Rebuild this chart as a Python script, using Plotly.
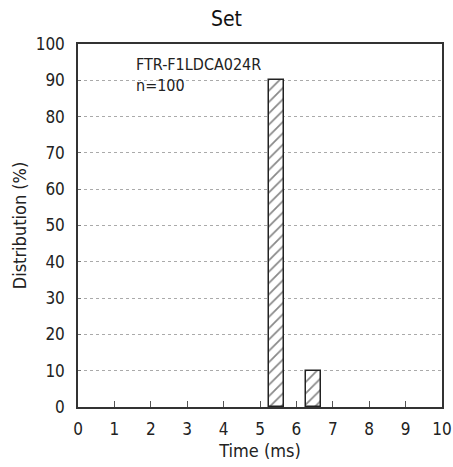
import plotly.graph_objects as go

time_ms = [5.45, 6.47]
distribution = [90, 10]
bar_width = 0.42
x_ticks = list(range(0, 11))
y_ticks = list(range(0, 101, 10))
title = "Set"
label_lines = ["FTR-F1LDCA024R", "n=100"]

FONT = "DejaVu Sans Condensed, Liberation Sans Narrow, Noto Sans"
TXT = "#222222"

fig = go.Figure()
fig.add_trace(go.Bar(
    x=time_ms, y=distribution, width=bar_width,
    marker=dict(color="white", line=dict(color="#222222", width=1.5),
                pattern=dict(shape="/", fgcolor="#111111", bgcolor="white", size=8, solidity=0.22)),
))

fig.update_layout(
    width=453, height=467,
    margin=dict(l=78, r=11, t=44, b=60, autoexpand=False),
    paper_bgcolor="white", plot_bgcolor="white",
    showlegend=False,
    font=dict(family=FONT, color=TXT, size=17),
    title=dict(text=title, x=0.5, xanchor="center", y=0.975, yanchor="top",
               font=dict(size=21, color="#111111")),
    xaxis=dict(range=[0, 10], tickvals=x_ticks, ticks="inside", ticklen=6,
               tickcolor="#555555", showgrid=False, zeroline=False, automargin=False,
               ticklabelstandoff=6,
               showline=True, linecolor="#333333", linewidth=1.5, mirror=True,
               title=dict(text="Time (ms)", standoff=6, font=dict(size=18))),
    yaxis=dict(range=[0, 100], tickvals=y_ticks, ticks="inside", ticklen=3,
               tickcolor="#777777", showgrid=True, gridcolor="#aaaaaa",
               griddash="3px,3px", gridwidth=1, zeroline=False, automargin=False,
               ticklabelstandoff=8,
               showline=True, linecolor="#333333", linewidth=1.5, mirror=True,
               title=dict(text="Distribution (%)", standoff=4, font=dict(size=18))),
    bargap=0,
)

fig.add_annotation(x=1.55, y=97.5, xref="x", yref="y", xanchor="left", yanchor="top",
                   text="<br>".join(label_lines), showarrow=False, align="left",
                   font=dict(size=16, color=TXT))

fig.write_html("out.html")
